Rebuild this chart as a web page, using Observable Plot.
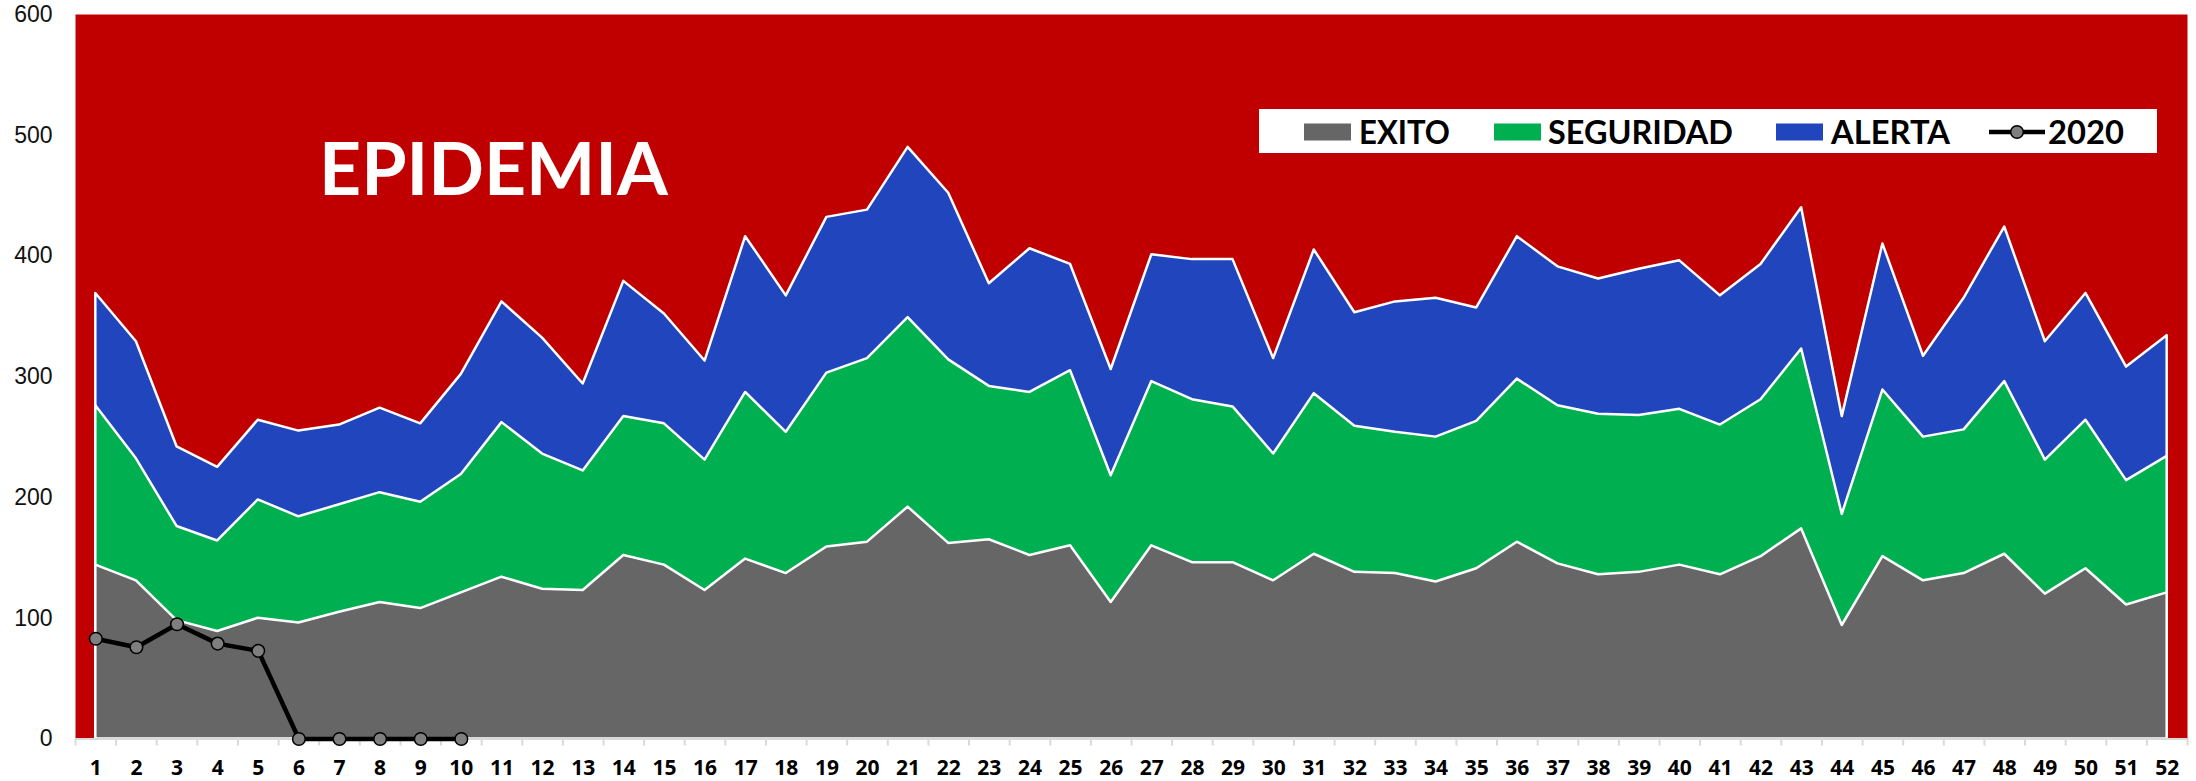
<!DOCTYPE html>
<html>
<head>
<meta charset="utf-8">
<script src="https://cdn.jsdelivr.net/npm/d3@7"></script>
<script src="https://cdn.jsdelivr.net/npm/@observablehq/plot@0.6"></script>
<style>
  html, body { margin: 0; padding: 0; background: #ffffff; }
  #wrap { position: relative; width: 2196px; height: 781px; overflow: hidden; }
  #wrap svg { position: absolute; left: 0; top: 0; }
</style>
</head>
<body>
<div id="wrap"></div>
<script>
// ---- data ----
const weeks = d3.range(1, 53);
const exito = [144,131,98,89,100,96,105,113,108,121,134,124,123,152,144,123,149,137,159,163,192,162,165,152,160,113,160,146,146,131,153,138,137,130,141,163,145,136,138,144,136,151,174,94,151,131,137,153,120,141,111,121];
const seguridad = [276,232,176,164,198,184,194,204,196,219,262,236,222,267,261,231,287,254,303,315,349,314,292,287,305,218,296,281,275,236,286,259,254,250,263,298,276,269,268,273,260,281,323,186,289,250,256,296,231,264,214,234];
const alerta = [369,329,242,225,264,255,260,274,261,302,362,332,294,379,352,313,416,367,432,438,490,452,377,406,393,306,401,397,397,315,405,353,362,365,357,416,391,381,389,396,367,393,440,267,410,317,365,424,329,369,308,334];
const weeks2020 = d3.range(1, 11);
const casos2020 = [83,76,95,79,73,0,0,0,0,0];
const yTicks = [0,100,200,300,400,500,600];
const seriesNames = ["EXITO", "SEGURIDAD", "ALERTA", "2020"];
const zoneLabel = "EPIDEMIA";

const colors = {
  epidemia: "#C00000",
  EXITO: "#666666",
  SEGURIDAD: "#00B050",
  ALERTA: "#2045BD",
  line: "#000000",
  dot: "#7F7F7F",
  axis: "#D9D9D9"
};

const rows = weeks.map((w, i) => ({week: w, exito: exito[i], seguridad: seguridad[i], alerta: alerta[i]}));
const rows2020 = weeks2020.map((w, i) => ({week: w, value: casos2020[i]}));
const boundaries = d3.range(0, 53).map(d => d + 0.5);

const chart = Plot.plot({
  width: 2196,
  height: 781,
  marginLeft: 75,
  marginRight: 9,
  marginTop: 14,
  marginBottom: 42.5,
  x: {type: "linear", domain: [0.5, 52.5], label: null},
  y: {domain: [0, 600], label: null},
  style: {background: "transparent", fontFamily: "'Open Sans', sans-serif", color: "#000"},
  marks: [
    Plot.frame({fill: colors.epidemia, stroke: null}),
    Plot.areaY(rows, {x: "week", y: "alerta", fill: colors.ALERTA, stroke: "white", strokeWidth: 2.5}),
    Plot.areaY(rows, {x: "week", y: "seguridad", fill: colors.SEGURIDAD, stroke: "white", strokeWidth: 2.5}),
    Plot.areaY(rows, {x: "week", y: "exito", fill: colors.EXITO, stroke: "white", strokeWidth: 2.5}),
    Plot.ruleY([0], {stroke: colors.axis, strokeWidth: 2}),
    Plot.axisX(boundaries, {tickSize: 7, tickFormat: () => "", stroke: colors.axis, strokeWidth: 2, label: null}),
    Plot.axisX(weeks, {tickSize: 0, tickPadding: 21.5, fontWeight: "bold", fontSize: 21, fill: "#000", label: null}),
    Plot.axisY(yTicks, {tickSize: 0, tickPadding: 23, fontSize: 23, fontFamily: "'Liberation Sans', Arial, sans-serif", fill: "#111", label: null}),
    Plot.line(rows2020, {x: "week", y: "value", stroke: colors.line, strokeWidth: 4.5}),
    Plot.dot(rows2020, {x: "week", y: "value", fill: colors.dot, stroke: colors.line, strokeWidth: 1.5, r: 6.3})
  ]
});
document.getElementById("wrap").appendChild(chart);

// ---- overlay: zone label and legend ----
const ov = d3.select("#wrap").append("svg")
  .attr("width", 2196).attr("height", 781)
  .style("pointer-events", "none");

ov.append("text")
  .attr("x", 319).attr("y", 195)
  .attr("font-family", "Lato, sans-serif").attr("font-weight", 700)
  .attr("font-size", 73).attr("fill", "#fff")
  .attr("textLength", 349).attr("lengthAdjust", "spacingAndGlyphs")
  .text(zoneLabel);

const lg = ov.append("g");
lg.append("rect").attr("x", 1259).attr("y", 109).attr("width", 898).attr("height", 44).attr("fill", "#fff");

const legendItems = [
  {name: seriesNames[0], sx: 1304, tx: 1359, tw: 91},
  {name: seriesNames[1], sx: 1494, tx: 1548, tw: 185},
  {name: seriesNames[2], sx: 1776, tx: 1831, tw: 119}
];
for (const it of legendItems) {
  lg.append("rect").attr("x", it.sx).attr("y", 123.5).attr("width", 47).attr("height", 17)
    .attr("fill", colors[it.name]);
  lg.append("text").attr("x", it.tx).attr("y", 143.5)
    .attr("font-family", "Lato, sans-serif").attr("font-weight", 700).attr("font-size", 33)
    .attr("fill", "#000").attr("textLength", it.tw).attr("lengthAdjust", "spacingAndGlyphs")
    .text(it.name);
}
lg.append("line").attr("x1", 1989).attr("x2", 2045).attr("y1", 132).attr("y2", 132)
  .attr("stroke", "#000").attr("stroke-width", 4.5);
lg.append("circle").attr("cx", 2017).attr("cy", 132).attr("r", 6.3)
  .attr("fill", colors.dot).attr("stroke", "#000").attr("stroke-width", 1.5);
lg.append("text").attr("x", 2048).attr("y", 143.5)
  .attr("font-family", "Lato, sans-serif").attr("font-weight", 700).attr("font-size", 33)
  .attr("fill", "#000").attr("textLength", 76).attr("lengthAdjust", "spacingAndGlyphs")
  .text(seriesNames[3]);
</script>
</body>
</html>
